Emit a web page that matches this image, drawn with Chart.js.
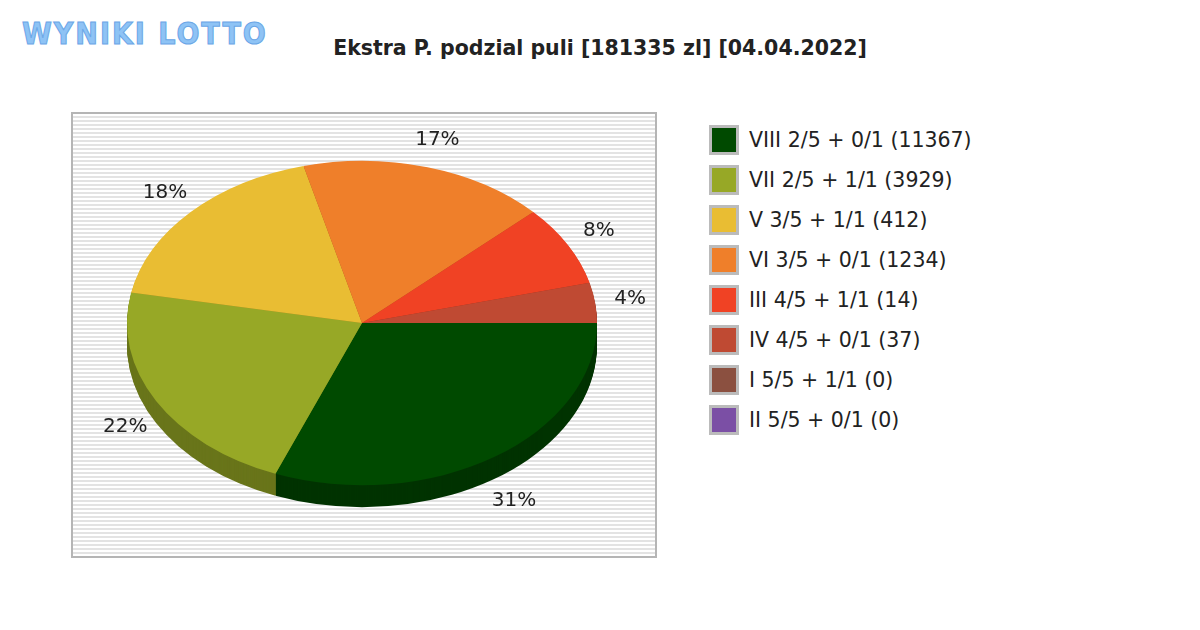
<!DOCTYPE html>
<html><head><meta charset="utf-8">
<script src="https://cdn.jsdelivr.net/npm/chart.js@4"></script>
<style>
body{margin:0;width:1200px;height:630px;background:#fff;position:relative;overflow:hidden;font-family:"DejaVu Sans",sans-serif}
#logo{position:absolute;left:22px;top:16px;font:bold 30px "DejaVu Sans Condensed","DejaVu Sans";letter-spacing:2px;color:#8ec3f5;-webkit-text-stroke:1px #6aa6e6}
#title{position:absolute;left:0;width:1200px;top:36px;text-align:center;font:bold 20.5px "DejaVu Sans";color:#222}
#box{position:absolute;left:71px;top:112px;width:582px;height:442px;border:2px solid #b5b5b5;
 background:repeating-linear-gradient(#fff 0 2px,#e3e3e3 2px 4px)}
#wrap{position:absolute;left:62px;top:23px;width:600px;height:600px}
#legend{position:absolute;left:709px;top:120px}
.li{display:flex;align-items:center;height:40px;font-size:20.5px;color:#222}
.sw{width:24px;height:24px;border:3px solid #bbb;margin-right:10px}
</style></head><body>
<div id="logo">WYNIKI LOTTO</div>
<div id="title">Ekstra P. podzial puli [181335 zl] [04.04.2022]</div>
<div id="box"></div>
<div id="wrap"><canvas id="c" width="600" height="600"></canvas></div>
<div id="legend"></div>
<script>
const labels = ['VIII 2/5 + 0/1 (11367)','VII 2/5 + 1/1 (3929)','V 3/5 + 1/1 (412)','VI 3/5 + 0/1 (1234)','III 4/5 + 1/1 (14)','IV 4/5 + 0/1 (37)','I 5/5 + 1/1 (0)','II 5/5 + 0/1 (0)'];
const shares = [31, 22, 18, 17, 8, 4, 0, 0];
const colors = ['#004a00','#97a826','#e9bd33','#ef7f2a','#f04224','#bf4a33','#8b5040','#7b4fa5'];
const SY = 0.69, DEPTH = 22;

function darken(hex, f) {
  const n = parseInt(hex.slice(1), 16);
  const r = (n >> 16) * f, g = ((n >> 8) & 255) * f, b = (n & 255) * f;
  return `rgb(${r|0},${g|0},${b|0})`;
}

const leg = document.getElementById('legend');
labels.forEach((l, i) => {
  leg.insertAdjacentHTML('beforeend', `<div class="li"><div class="sw" style="background:${colors[i]}"></div>${l}</div>`);
});

const flatPie = {
  id: 'flatPie',
  beforeDatasetsDraw(chart) {
    const ctx = chart.ctx, meta = chart.getDatasetMeta(0);
    const { x: cx, y: cy } = meta.data[0];
    ctx.save();
    ctx.translate(cx, cy); ctx.scale(1, SY); ctx.translate(-cx, -cy);
    for (let d = DEPTH; d > 0; d--) {
      meta.data.forEach((a, i) => {
        if (a.endAngle - a.startAngle <= 0) return;
        ctx.beginPath();
        ctx.moveTo(cx, cy + d / SY);
        ctx.arc(cx, cy + d / SY, a.outerRadius, a.startAngle, a.endAngle);
        ctx.closePath();
        ctx.fillStyle = darken(colors[i], 0.7);
        ctx.fill();
      });
    }
  },
  afterDatasetsDraw(chart) {
    const ctx = chart.ctx;
    ctx.restore();
    const meta = chart.getDatasetMeta(0);
    ctx.font = '20px "DejaVu Sans"';
    ctx.fillStyle = '#222';
    ctx.textAlign = 'center'; ctx.textBaseline = 'middle';
    meta.data.forEach((a, i) => {
      if (!shares[i]) return;
      const m = (a.startAngle + a.endAngle) / 2;
      const r = a.outerRadius * 1.15;
      const s = Math.sin(m);
      ctx.fillText(shares[i] + '%', a.x + Math.cos(m) * r, a.y + s * r * SY + (s > 0 ? 28 * s : 4 * s));
    });
  }
};

new Chart(document.getElementById('c'), {
  type: 'pie',
  data: { labels, datasets: [{ data: shares, backgroundColor: colors, borderWidth: 0 }] },
  options: {
    responsive: false, animation: false, rotation: 90,
    layout: { padding: 65 },
    plugins: { legend: { display: false }, tooltip: { enabled: false } }
  },
  plugins: [flatPie]
});
</script>
</body></html>
